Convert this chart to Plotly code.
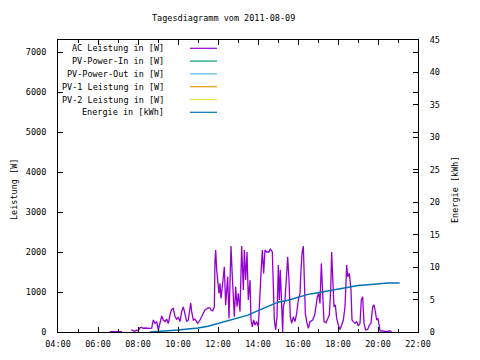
import plotly.graph_objects as go

DAY = "2011-08-09 "

# AC Leistung in [W]
ac_time = ["06:35", "06:45", "06:55", "07:05", "07:12", "07:20", "07:40", "07:45", "07:50", "07:56",
           "08:01", "08:06", "08:11", "08:16", "08:21", "08:26", "08:31", "08:36", "08:41", "08:46",
           "08:51", "08:56", "09:01", "09:06", "09:11", "09:16", "09:21", "09:26", "09:31", "09:36",
           "09:41", "09:46", "09:51", "09:56", "10:01", "10:06", "10:11", "10:16", "10:21", "10:26",
           "10:31", "10:36", "10:38", "10:41", "10:46", "10:51", "10:59", "11:06", "11:13", "11:21",
           "11:26", "11:31", "11:36", "11:39", "11:44", "11:49", "11:51", "11:53", "11:56", "11:59",
           "12:03", "12:06", "12:09", "12:13", "12:19", "12:23", "12:29", "12:33", "12:39", "12:43",
           "12:49", "12:53", "12:57", "13:01", "13:06", "13:11", "13:16", "13:19", "13:23", "13:27",
           "13:31", "13:36", "13:39", "13:43", "13:47", "13:51", "13:56", "14:01", "14:04", "14:09",
           "14:13", "14:17", "14:21", "14:26", "14:33", "14:37", "14:43", "14:46", "14:49", "14:53",
           "14:57", "15:01", "15:04", "15:07", "15:11", "15:14", "15:16", "15:21", "15:26", "15:29",
           "15:33", "15:37", "15:41", "15:46", "15:51", "15:56", "16:01", "16:06", "16:09", "16:12",
           "16:16", "16:19", "16:22", "16:26", "16:31", "16:36", "16:44", "16:50", "16:54", "16:58",
           "17:02", "17:06", "17:10", "17:14", "17:18", "17:24", "17:30", "17:34", "17:38", "17:41",
           "17:44", "17:48", "17:52", "17:56", "18:01", "18:06", "18:11", "18:16", "18:21", "18:26",
           "18:29", "18:34", "18:39", "18:42", "18:46", "18:51", "18:56", "19:01", "19:06", "19:10",
           "19:14", "19:18", "19:23", "19:29", "19:34", "19:39", "19:44", "19:48", "19:52", "19:56",
           "20:00", "20:04", "20:06", "20:11", "20:21", "20:28", "20:34", "20:41"]
ac_watt = [10, 15, 10, 15, 10, None, 50, 40, 10, 50,
           20, 110, 115, 90, 100, 95, 85, 90, 95, 300,
           215, 260, 50, 260, 400, 300, 260, 320, 215, 425,
           565, 590, 385, 320, 365, 260, 510, 630, 425, 260,
           300, 550, 730, 510, 300, 320, 215, 300, 400, 550,
           580, 610, 600, 550, 530, 630, 1800, 2050, 1550, 1215,
           965, 1215, 840, 1130, 1630, 675, 1380, 340, 2150, 1380,
           380, 1130, 630, 965, 510, 2150, 1050, 2050, 1300, 2000,
           800, 1300, 300, 130, 300, 175, 260, 130, 800, 1465,
           2050, 1465, 2050, 2000, 2000, 2080, 2000, 1050, 300, 50,
           380, 1675, 800, 1550, 630, 0, 630, 800, 1465, 1880,
           1300, 380, 215, 380, 260, 465, 800, 965, 1550, 1965,
           2150, 1300, 465, 260, 90, 260, 300, 425, 630, 880,
           965, 715, 1715, 925, 260, 230, 340, 425, 1050, 2000,
           1380, 630, 675, 340, 175, 65, 175, 300, 630, 1675,
           1380, 1465, 1050, 300, 260, 215, 260, 150, 215, 800,
           880, 215, 50, 65, 175, 215, 630, 675, 510, 300,
           340, 150, 30, 25, 20, 10, 30, 5]

# Energie in [kWh]
en_time = ["08:35", "09:00", "09:30", "10:00", "10:30", "11:00", "11:30", "12:00", "12:30", "13:00",
           "13:30", "14:00", "14:30", "15:00", "15:30", "16:00", "16:30", "17:00", "17:30", "18:00",
           "18:30", "19:00", "19:30", "20:00", "20:30", "21:05"]
en_kwh = [0.0, 0.05, 0.2, 0.3, 0.45, 0.6, 0.9, 1.3, 1.7, 2.1,
          2.6, 3.3, 4.0, 4.6, 4.9, 5.3, 5.8, 6.05, 6.35, 6.6,
          6.9, 7.15, 7.3, 7.45, 7.55, 7.55]

series_names = ["AC Leistung in [W]", "PV-Power-In in [W]", "PV-Power-Out in [W]",
                "PV-1 Leistung in [W]", "PV-2 Leistung in [W]", "Energie in [kWh]"]
series_colors = ["#9400d3", "#009e73", "#56b4e9", "#e69f00", "#f0e442", "#0072b2"]

FONT = "DejaVu Sans Mono"
FS = 8.5

# page offset (default body margin) and plot area in window pixels
OFF = 8
L, R, T, B = 58, 418, 40, 332
W, H = 480 - OFF, 360 - OFF


def px(xp):
    return (xp - L) / (R - L)


def py(yp):
    return (B - yp) / (B - T)


fig = go.Figure()
fig.add_trace(go.Scatter(x=[DAY + t for t in ac_time], y=ac_watt, mode="lines",
                         name=series_names[0], line=dict(color=series_colors[0], width=1.3),
                         connectgaps=False, showlegend=False))
for i in range(1, 5):
    fig.add_trace(go.Scatter(x=[], y=[], mode="lines", name=series_names[i],
                             line=dict(color=series_colors[i], width=1.2), showlegend=False))
fig.add_trace(go.Scatter(x=[DAY + t for t in en_time], y=en_kwh, mode="lines",
                         name=series_names[5], line=dict(color=series_colors[5], width=1.5),
                         yaxis="y2", showlegend=False))

annotations = []
shapes = []
row_y = [48.3, 61.1, 73.9, 86.7, 99.5, 112.3]
for name, col, ry in zip(series_names, series_colors, row_y):
    annotations.append(dict(x=px(166), y=py(ry), xref="paper", yref="paper", text=name,
                            showarrow=False, xanchor="right", yanchor="middle",
                            font=dict(family=FONT, size=FS, color="black")))
    shapes.append(dict(type="line", xref="paper", yref="paper", x0=px(190), x1=px(217),
                       y0=py(ry), y1=py(ry), line=dict(color=col, width=1.2)))

annotations.append(dict(x=px(14), y=py(190), xref="paper", yref="paper", text="Leistung [W]",
                        showarrow=False, textangle=-90, xanchor="center", yanchor="middle",
                        font=dict(family=FONT, size=FS, color="black")))
annotations.append(dict(x=px(455), y=py(190), xref="paper", yref="paper", text="Energie [kWh]",
                        showarrow=False, textangle=-90, xanchor="center", yanchor="middle",
                        font=dict(family=FONT, size=FS, color="black")))
annotations.append(dict(x=px(223), y=py(18), xref="paper", yref="paper",
                        text="Tagesdiagramm vom 2011-08-09",
                        showarrow=False, xanchor="center", yanchor="middle",
                        font=dict(family=FONT, size=FS, color="black")))

fig.update_layout(
    width=W, height=H,
    margin=dict(l=L - OFF, r=W - (R - OFF), t=T - OFF, b=H - (B - OFF), pad=0,
                autoexpand=False),
    paper_bgcolor="white", plot_bgcolor="white",
    font=dict(family=FONT, size=FS, color="black"),
    showlegend=False,
    annotations=annotations, shapes=shapes,
    xaxis=dict(type="date", range=[DAY + "04:00", DAY + "22:00"],
               tick0=DAY + "04:00", dtick=7200000, tickformat="%H:%M",
               ticks="inside", ticklen=5, tickcolor="black", tickwidth=1,
               minor=dict(dtick=3600000, ticks="inside", ticklen=3, tickcolor="black"),
               showline=True, linecolor="black", linewidth=1, mirror="ticks",
               showgrid=False, zeroline=False, ticklabelstandoff=4, automargin=False),
    yaxis=dict(range=[0, 7300], tick0=0, dtick=1000, ticks="inside", ticklen=5,
               tickcolor="black", showline=True, linecolor="black", linewidth=1,
               mirror="ticks", showgrid=False, zeroline=False, ticklabelstandoff=9,
               automargin=False),
    yaxis2=dict(range=[0, 45], tick0=0, dtick=5, overlaying="y", side="right",
                ticks="inside", ticklen=5, tickcolor="black", showline=True,
                linecolor="black", linewidth=1, showgrid=False, zeroline=False,
                ticklabelstandoff=9, automargin=False),
)

fig.write_html("out.html")
